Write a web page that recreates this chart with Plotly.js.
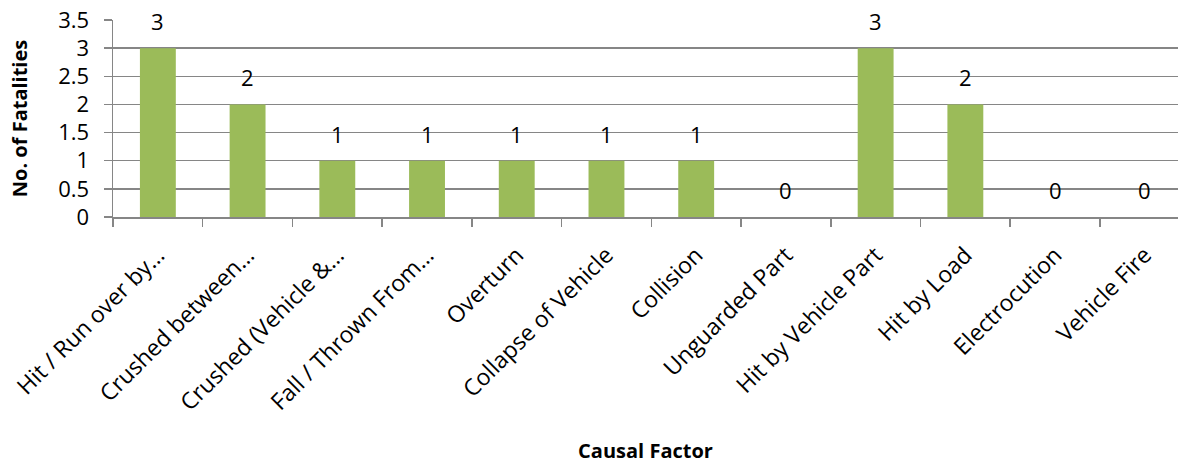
<!DOCTYPE html>
<html>
<head>
<meta charset="utf-8">
<script src="https://cdn.plot.ly/plotly-3.0.1.min.js"></script>
<style>html,body{margin:0;padding:0;background:#fff;}#chart{width:1178px;height:464px;}</style>
</head>
<body>
<div id="chart"></div>
<script>
const categories = ["Hit / Run over by…", "Crushed between…", "Crushed (Vehicle &…", "Fall / Thrown From…", "Overturn", "Collapse of Vehicle", "Collision", "Unguarded Part", "Hit by Vehicle Part", "Hit by Load", "Electrocution", "Vehicle Fire"];
const fatalities = [3, 2, 1, 1, 1, 1, 1, 0, 3, 2, 0, 0];
const yTickVals = [0, 0.5, 1, 1.5, 2, 2.5, 3, 3.5];
const yTickText = ["0", "0.5", "1", "1.5", "2", "2.5", "3", "3.5"];

const font = "'Open Sans', 'Liberation Sans', sans-serif";
const grey = "#868686";

const trace = {
  type: "bar",
  x: categories,
  y: fatalities,
  width: 0.4,
  marker: {color: "#9BBB59", line: {width: 0}},
  hoverinfo: "skip"
};

const annotations = categories.map((c, i) => ({
  x: c, y: fatalities[i], xref: "x", yref: "y",
  text: String(fatalities[i]), showarrow: false,
  yshift: 27, font: {family: font, size: 22, color: "#000"}
}));

const layout = {
  width: 1178, height: 464,
  margin: {l: 113, r: 0, t: 20, b: 247, pad: 0},
  paper_bgcolor: "#fff", plot_bgcolor: "#fff",
  showlegend: false,
  xaxis: {
    type: "category",
    range: [-0.5, 11.37],
    tickangle: -45,
    tickfont: {family: font, size: 23, color: "#000"},
    ticklabelstandoff: 14,
    showgrid: false,
    showline: true, linecolor: grey, linewidth: 1.5,
    ticks: "outside", tickson: "boundaries", ticklen: 8, tickcolor: grey, tickwidth: 1.5,
    title: {text: "Causal Factor", font: {family: font, size: 20, color: "#000", weight: "bold"}, standoff: 47},
    automargin: false,
    fixedrange: true
  },
  yaxis: {
    range: [0, 3.5],
    tickvals: yTickVals, ticktext: yTickText,
    tickfont: {family: font, size: 22, color: "#000"},
    showgrid: true, gridcolor: grey, gridwidth: 1.5,
    zeroline: false,
    showline: true, linecolor: grey, linewidth: 1.5,
    ticks: "outside", ticklen: 8, tickcolor: grey, tickwidth: 1.5,
    ticklabelstandoff: 10,
    title: {text: "No. of Fatalities", font: {family: font, size: 20, color: "#000", weight: "bold"}, standoff: 25},
    automargin: false,
    fixedrange: true
  },
  annotations: annotations
};

Plotly.newPlot("chart", [trace], layout, {displayModeBar: false, staticPlot: true});
</script>
</body>
</html>
